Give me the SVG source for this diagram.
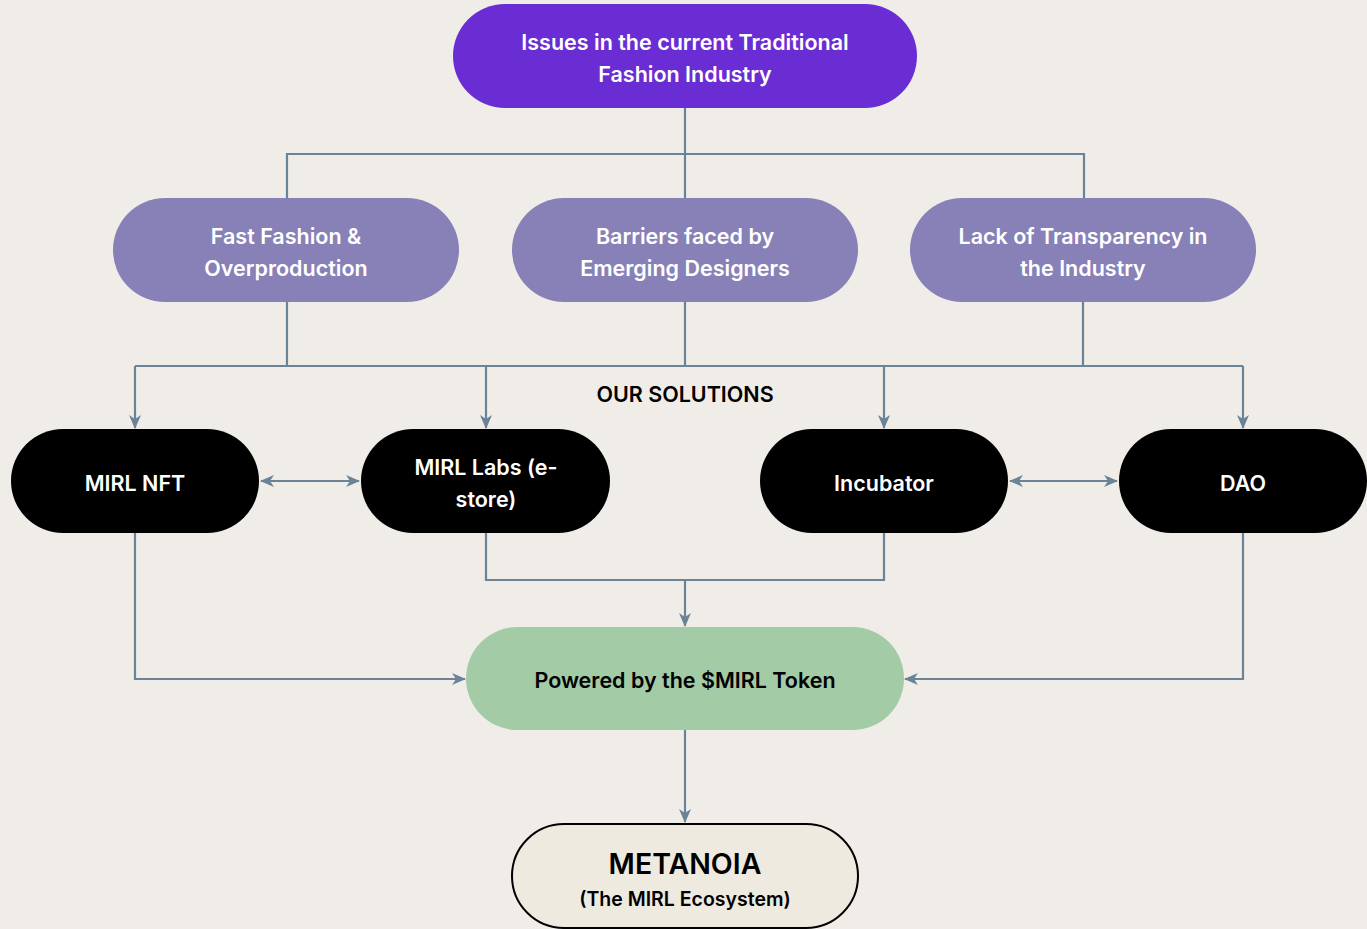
<svg xmlns="http://www.w3.org/2000/svg" width="1367" height="929" viewBox="0 0 1367 929">
<style>
.bg{fill:#f0ede9}
.ln{fill:none;stroke:#6a8397;stroke-width:2.2}
.t{font-family:Inter,"Liberation Sans",sans-serif;font-size:21.5px;font-weight:600;text-anchor:middle}
.w{fill:#ffffff}
.k{fill:#000000}
</style>
<defs>
<marker id="ah" viewBox="0 0 14 14" refX="13" refY="7" markerWidth="14" markerHeight="14" markerUnits="userSpaceOnUse" orient="auto-start-reverse">
<path d="M0,1 L14,7 L0,13 L4,7 z" fill="#6a8397"/>
</marker>
</defs>
<rect class="bg" x="0" y="0" width="1367" height="929"/>
<g id="connectors">
<path class="ln" d="M685,108 V154 M287,198 V154 H1084 V198 M685,154 V198"/>
<path class="ln" d="M287,302 V366 M685,302 V366 M1083,302 V366 M135,366 H1243"/>
<path class="ln" d="M135,366 V428" marker-end="url(#ah)"/>
<path class="ln" d="M486,366 V428" marker-end="url(#ah)"/>
<path class="ln" d="M884,366 V428" marker-end="url(#ah)"/>
<path class="ln" d="M1243,366 V428" marker-end="url(#ah)"/>
<path class="ln" d="M261,481 H359" marker-start="url(#ah)" marker-end="url(#ah)"/>
<path class="ln" d="M1010,481 H1117" marker-start="url(#ah)" marker-end="url(#ah)"/>
<path class="ln" d="M486,533 V580 H884 V533"/>
<path class="ln" d="M685,580 V626" marker-end="url(#ah)"/>
<path class="ln" d="M135,533 V679 H465" marker-end="url(#ah)"/>
<path class="ln" d="M1243,533 V679 H905" marker-end="url(#ah)"/>
<path class="ln" d="M685,730 V822" marker-end="url(#ah)"/>
</g>
<g id="n-issues">
<rect x="453" y="4" width="464" height="104" rx="52" fill="#6a2dd3"/>
<text class="t w" x="685" y="50">Issues in the current Traditional</text>
<text class="t w" x="685" y="82">Fashion Industry</text>
</g>
<g id="n-fast">
<rect x="113" y="198" width="346" height="104" rx="52" fill="#8781b8"/>
<text class="t w" x="286" y="244">Fast Fashion &amp;</text>
<text class="t w" x="286" y="276">Overproduction</text>
</g>
<g id="n-barriers">
<rect x="512" y="198" width="346" height="104" rx="52" fill="#8781b8"/>
<text class="t w" x="685" y="244">Barriers faced by</text>
<text class="t w" x="685" y="276">Emerging Designers</text>
</g>
<g id="n-lack">
<rect x="910" y="198" width="346" height="104" rx="52" fill="#8781b8"/>
<text class="t w" x="1083" y="244">Lack of Transparency in</text>
<text class="t w" x="1083" y="276">the Industry</text>
</g>
<g id="lbl-solutions">
<text class="t k" x="685" y="402">OUR SOLUTIONS</text>
</g>
<g id="n-nft">
<rect x="11" y="429" width="248" height="104" rx="52" fill="#000"/>
<text class="t w" x="135" y="491">MIRL NFT</text>
</g>
<g id="n-labs">
<rect x="361" y="429" width="249" height="104" rx="52" fill="#000"/>
<text class="t w" x="486" y="475">MIRL Labs (e-</text>
<text class="t w" x="486" y="507">store)</text>
</g>
<g id="n-incubator">
<rect x="760" y="429" width="248" height="104" rx="52" fill="#000"/>
<text class="t w" x="884" y="491">Incubator</text>
</g>
<g id="n-dao">
<rect x="1119" y="429" width="248" height="104" rx="52" fill="#000"/>
<text class="t w" x="1243" y="491">DAO</text>
</g>
<g id="n-token">
<rect x="466" y="627" width="438" height="103" rx="51.5" fill="#a2cba6"/>
<text class="t k" x="685" y="688">Powered by the $MIRL Token</text>
</g>
<g id="n-metanoia">
<rect x="512" y="824" width="346" height="104" rx="52" fill="#eeeadf" stroke="#000" stroke-width="2"/>
<text class="t k" x="685" y="874" style="font-size:28.5px">METANOIA</text>
<text class="t k" x="685" y="906" style="font-size:19.5px">(The MIRL Ecosystem)</text>
</g>
</svg>
